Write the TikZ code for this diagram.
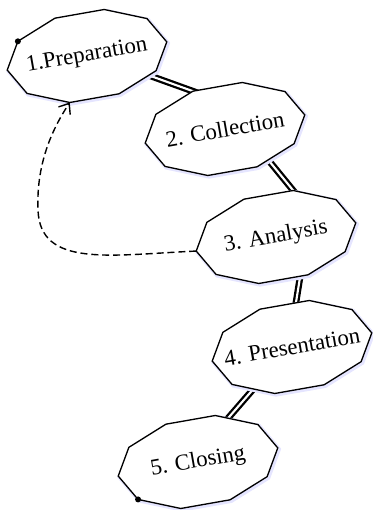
\documentclass[tikz,border=0pt]{standalone}
\usepackage{fontspec}
\setmainfont{Liberation Serif}
\usetikzlibrary{arrows.meta,calc}
\tikzset{
  decabox/.style={draw=black, line width=0.75pt, fill=white,
    preaction={draw=blue!10, line width=2.2pt, transform canvas={shift={(0.7pt,-0.7pt)}}}},
  stagetext/.style={font=\fontsize{13}{15}\selectfont, inner sep=0pt, rotate=10},
  linkline/.style={draw=black, line width=1.3pt, double=white, double distance=1.2pt,
    shorten <=-4pt, shorten >=-4pt},
  backarrow/.style={-{Straight Barb[length=5pt,width=8pt]}, dash pattern=on 4pt off 2.2pt, line width=0.8pt},
}

\begin{document}
\begin{tikzpicture}[x=0.02cm,y=0.02cm]
  \useasboundingbox (0,0) rectangle (372,510);
  % corner points of the five decagons
  \foreach \n/\x/\y in {n1/87/454, n2/225/381, n3/276/273, n4/292/163, n5/198/48} {
    \begin{scope}[shift={(\x,\y)}, rotate=10]
      \foreach \k in {0,...,9}
        \coordinate (\n-\k) at (36*\k:81 and 45);
    \end{scope}
  }
  % links between the stages
  \draw[linkline] ($(n1-9)!0.2!(n1-8)$) -- (n2-3);
  \draw[linkline] ($(n2-8)!0.3!(n2-9)$) -- (n3-2);
  \draw[linkline] ($(n3-8)!0.16!(n3-7)$) -- ($(n4-2)!0.27!(n4-3)$);
  \draw[linkline] ($(n4-6)!0.5!(n4-7)$) -- ($(n5-2)!0.3!(n5-1)$);
  % the stages
  \foreach \n/\x/\y/\t in {n1/87/454/1.Preparation, n2/225/381/2. Collection,
      n3/276/273/3. Analysis, n4/292/163/4. Presentation, n5/198/48/5. Closing} {
    \draw[decabox] (\n-0) \foreach \k in {1,...,9} {-- (\n-\k)} -- cycle;
    \node[stagetext] (\n) at (\x,\y) {\t};
  }
  % feedback from analysis
  \draw[backarrow] (n3-5) .. controls (110,255) and (40,242) .. (38,300)
    .. controls (36,350) and (55,385) .. (n1-7);
  \fill (n1-4) circle[radius=1.7pt];
  \fill (n5-6) circle[radius=1.7pt];
\end{tikzpicture}
\end{document}
